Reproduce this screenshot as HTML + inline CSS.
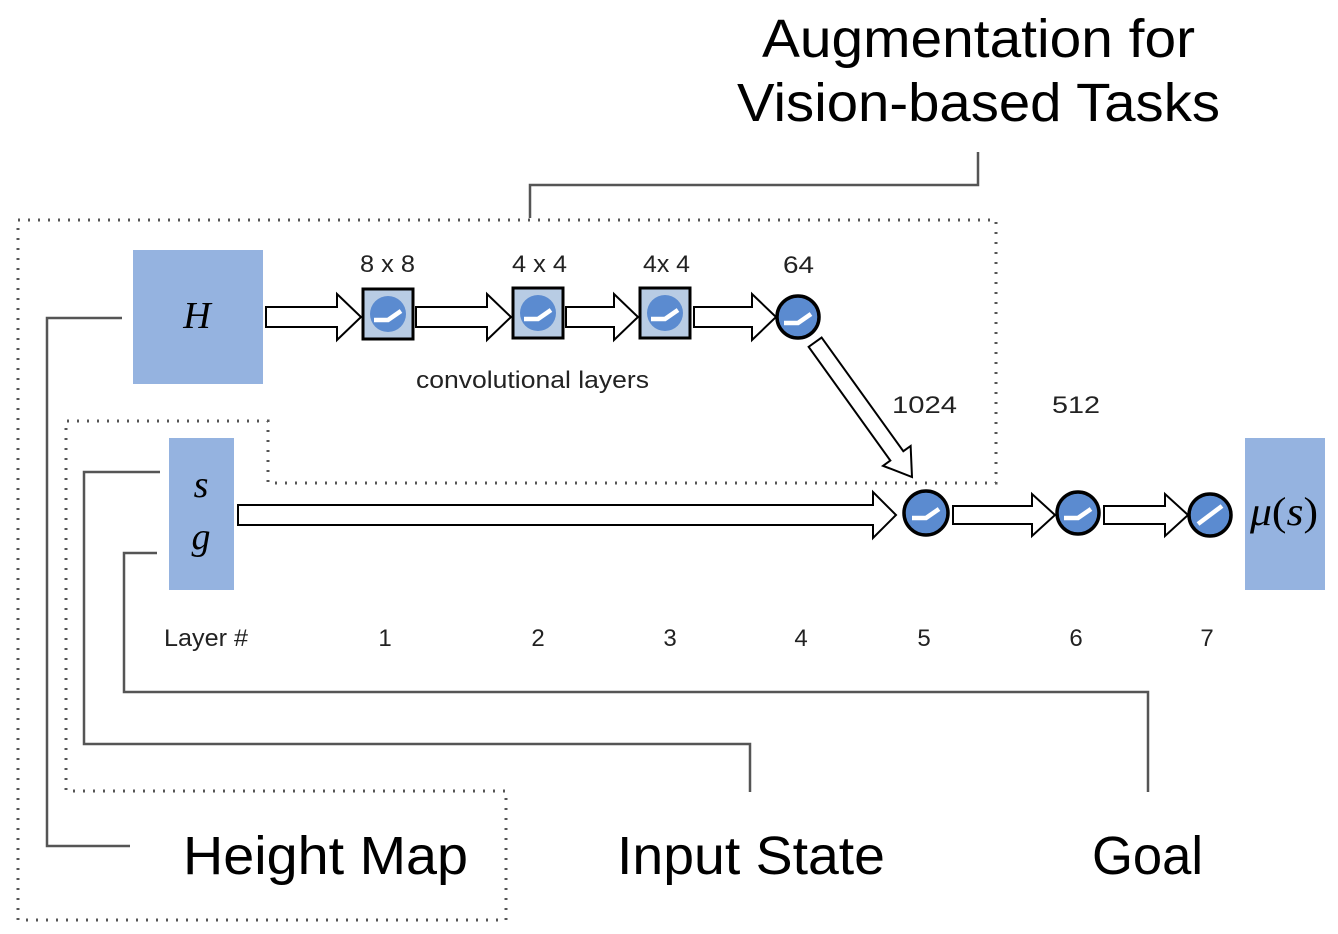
<!DOCTYPE html>
<html><head><meta charset="utf-8"><style>
html,body{margin:0;padding:0;background:#fff;}
svg{display:block;font-family:"Liberation Sans","DejaVu Sans",sans-serif;}
</style></head><body>
<svg width="1338" height="934" viewBox="0 0 1338 934" xmlns="http://www.w3.org/2000/svg">
<polygon points="18,220 996,220 996,483 268,483 268,421 66,421 66,791 506,791 506,920 18,920" fill="none" stroke="#555" stroke-width="3" stroke-dasharray="2,8"/>
<g fill="none" stroke="#555" stroke-width="2.5">
<polyline points="122,318 47,318 47,846 130,846"/>
<polyline points="160,472 84,472 84,744 750,744 750,792"/>
<polyline points="157,553 124,553 124,692 1148,692 1148,792"/>
<polyline points="530,218 530,185 978,185 978,152"/>
</g>
<rect x="133" y="250" width="130" height="134" fill="#95b3e0"/>
<rect x="169" y="438" width="65" height="152" fill="#95b3e0"/>
<rect x="1245" y="438" width="80" height="152" fill="#95b3e0"/>
<text x="197" y="328" font-family="Liberation Serif,serif" font-style="italic" font-size="38" text-anchor="middle">H</text>
<text x="201" y="497" font-family="Liberation Serif,serif" font-style="italic" font-size="38" text-anchor="middle">s</text>
<text x="201" y="549" font-family="Liberation Serif,serif" font-style="italic" font-size="38" text-anchor="middle">g</text>
<text x="1250" y="525" font-family="Liberation Serif,serif" font-size="40" textLength="68" lengthAdjust="spacingAndGlyphs"><tspan font-style="italic">μ</tspan>(<tspan font-style="italic">s</tspan>)</text>
<g fill="#fff" stroke="#000" stroke-width="2">
<polygon points="266,307 337,307 337,294 361,317 337,340 337,327 266,327"/>
<polygon points="416,307 487,307 487,294 511,317 487,340 487,327 416,327"/>
<polygon points="566,307 614,307 614,294 638,317 614,340 614,327 566,327"/>
<polygon points="694,307 752,307 752,294 776,317 752,340 752,327 694,327"/>
<polygon points="238,505 873,505 873,492 896,515 873,538 873,525 238,525"/>
<polygon points="953,506 1032,506 1032,494 1055,515 1032,536 1032,524 953,524"/>
<polygon points="1104,506 1165,506 1165,494 1188,515 1165,536 1165,524 1104,524"/>
<g transform="translate(912,477) rotate(54.3)">
<polygon points="-166,-8 -26,-8 -26,-17 0,0 -26,17 -26,8 -166,8"/>
</g>
</g>
<g>
<rect x="363" y="289" width="50" height="50" fill="#b8cce4" stroke="#000" stroke-width="3"/>
<rect x="513" y="288" width="50" height="50" fill="#b8cce4" stroke="#000" stroke-width="3"/>
<rect x="640" y="288" width="50" height="50" fill="#b8cce4" stroke="#000" stroke-width="3"/>
<circle cx="388" cy="314" r="18" fill="#5b8bd0"/>
<circle cx="538" cy="313" r="18" fill="#5b8bd0"/>
<circle cx="665" cy="313" r="18" fill="#5b8bd0"/>
</g>
<g fill="#5b8bd0" stroke="#000" stroke-width="3.5">
<circle cx="798" cy="317" r="21"/>
<circle cx="926" cy="513" r="22"/>
<circle cx="1078" cy="513" r="21"/>
<circle cx="1210" cy="515" r="21"/>
</g>
<g fill="none" stroke="#fff" stroke-width="4.5">
<polyline points="374,320 388,320 401,311"/>
<polyline points="524,319 538,319 551,310"/>
<polyline points="651,319 665,319 678,310"/>
<polyline points="784,323 798,323 811,314"/>
<polyline points="912,518 926,518 939,509"/>
<polyline points="1064,518 1078,518 1091,509"/>
<line x1="1198" y1="524" x2="1222" y2="506"/>
</g>
<g font-size="24" fill="#222">
<text x="360" y="272" textLength="55" lengthAdjust="spacingAndGlyphs">8 x 8</text>
<text x="512" y="272" textLength="55" lengthAdjust="spacingAndGlyphs">4 x 4</text>
<text x="643" y="272" textLength="47" lengthAdjust="spacingAndGlyphs">4x 4</text>
<text x="783" y="273" textLength="31" lengthAdjust="spacingAndGlyphs">64</text>
<text x="892" y="413" textLength="65" lengthAdjust="spacingAndGlyphs">1024</text>
<text x="1052" y="413" textLength="48" lengthAdjust="spacingAndGlyphs">512</text>
<text x="416" y="388" textLength="233" lengthAdjust="spacingAndGlyphs">convolutional layers</text>
<text x="164" y="646" textLength="84" lengthAdjust="spacingAndGlyphs">Layer #</text>
</g>
<g font-size="24" fill="#222" text-anchor="middle">
<text x="385" y="646">1</text>
<text x="538" y="646">2</text>
<text x="670" y="646">3</text>
<text x="801" y="646">4</text>
<text x="924" y="646">5</text>
<text x="1076" y="646">6</text>
<text x="1207" y="646">7</text>
</g>
<g font-size="54" fill="#000">
<text x="762" y="57" textLength="433" lengthAdjust="spacingAndGlyphs">Augmentation for</text>
<text x="737" y="121" textLength="483" lengthAdjust="spacingAndGlyphs">Vision-based Tasks</text>
<text x="183" y="874" textLength="285" lengthAdjust="spacingAndGlyphs">Height Map</text>
<text x="617" y="874" textLength="268" lengthAdjust="spacingAndGlyphs">Input State</text>
<text x="1092" y="874" textLength="111" lengthAdjust="spacingAndGlyphs">Goal</text>
</g>
</svg>
</body></html>
